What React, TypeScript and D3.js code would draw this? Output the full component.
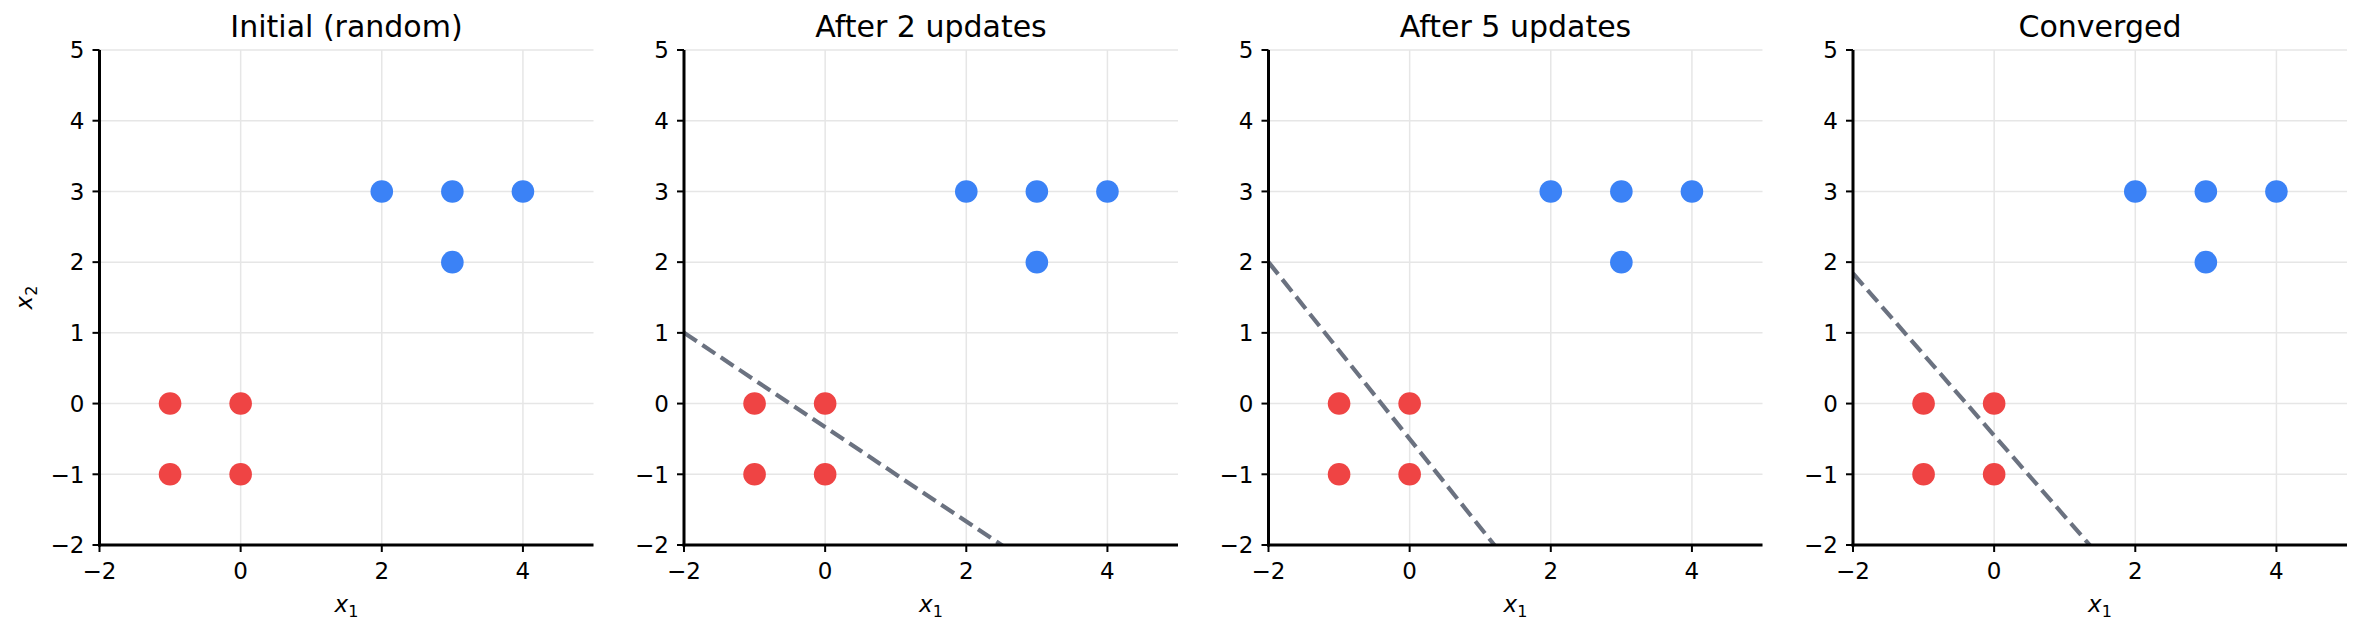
import React from "react";
import * as d3 from "d3";

const titles = ["Initial (random)", "After 2 updates", "After 5 updates", "Converged"];
const negX = [-1, 0, -1, 0];
const negY = [0, 0, -1, -1];
const posX = [2, 3, 4, 3];
const posY = [3, 3, 3, 2];
// decision boundary x2 = slope * x1 + intercept (null = not visible)
const boundarySlope: (number | null)[] = [null, -0.667, -1.25, -1.145];
const boundaryIntercept: (number | null)[] = [null, -0.333, -0.5, -0.45];
const xTicks = [-2, 0, 2, 4];
const yTicks = [-2, -1, 0, 1, 2, 3, 4, 5];

const W = 2364;
const H = 631;
const panelLeft0 = 99.5;
const panelStep = 584.5;
const panelW = 494;
const top = 50;
const bottom = 545;
const FONT = "DejaVu Sans, sans-serif";
const fmt = (v: number) => (v < 0 ? "\u2212" + Math.abs(v) : String(v));

function Panel({ i }: { i: number }) {
  const left = panelLeft0 + i * panelStep;
  const x = d3.scaleLinear().domain([-2, 5]).range([left, left + panelW]);
  const y = d3.scaleLinear().domain([-2, 5]).range([bottom, top]);
  const slope = boundarySlope[i];
  const icpt = boundaryIntercept[i];
  const line = d3.line<[number, number]>().x((d) => x(d[0])).y((d) => y(d[1]));
  const clipId = `clip${i}`;
  return (
    <g>
      <defs>
        <clipPath id={clipId}>
          <rect x={left} y={top} width={panelW} height={bottom - top} />
        </clipPath>
      </defs>
      {xTicks.map((t) => (
        <line key={"gx" + t} x1={x(t)} x2={x(t)} y1={top} y2={bottom} stroke="#e6e6e6" strokeWidth={1.5} />
      ))}
      {yTicks.map((t) => (
        <line key={"gy" + t} x1={left} x2={left + panelW} y1={y(t)} y2={y(t)} stroke="#e6e6e6" strokeWidth={1.5} />
      ))}
      {slope !== null && icpt !== null && (
        <path
          clipPath={`url(#${clipId})`}
          d={line([[-2, slope * -2 + icpt], [5, slope * 5 + icpt]]) || ""}
          stroke="#6b7280"
          strokeWidth={4.2}
          strokeDasharray="15.4,6.7"
          fill="none"
        />
      )}
      {negX.map((v, k) => (
        <circle key={"n" + k} cx={x(v)} cy={y(negY[k])} r={11.3} fill="#ef4444" />
      ))}
      {posX.map((v, k) => (
        <circle key={"p" + k} cx={x(v)} cy={y(posY[k])} r={11.3} fill="#3b82f6" />
      ))}
      <line x1={left} x2={left} y1={top} y2={bottom + 1.5} stroke="black" strokeWidth={3} />
      <line x1={left - 1.5} x2={left + panelW} y1={bottom} y2={bottom} stroke="black" strokeWidth={3} />
      {xTicks.map((t) => (
        <g key={"tx" + t}>
          <line x1={x(t)} x2={x(t)} y1={bottom} y2={bottom + 7} stroke="black" strokeWidth={2} />
          <text x={x(t)} y={bottom + 34} textAnchor="middle" fontSize={23} fontFamily={FONT}>
            {fmt(t)}
          </text>
        </g>
      ))}
      {yTicks.map((t) => (
        <g key={"ty" + t}>
          <line x1={left - 7} x2={left} y1={y(t)} y2={y(t)} stroke="black" strokeWidth={2} />
          <text x={left - 15} y={y(t) + 8.3} textAnchor="end" fontSize={23} fontFamily={FONT}>
            {fmt(t)}
          </text>
        </g>
      ))}
      <text x={left + panelW / 2} y={37} textAnchor="middle" fontSize={30} fontFamily={FONT}>
        {titles[i]}
      </text>
      <text x={left + panelW / 2} y={612} textAnchor="middle" fontSize={23} fontFamily={FONT}>
        <tspan fontStyle="italic">x</tspan>
        <tspan fontSize={16} dy={5}>1</tspan>
      </text>
      {i === 0 && (
        <text
          transform={`translate(${left - 68},${(top + bottom) / 2}) rotate(-90)`}
          textAnchor="middle"
          fontSize={23}
          fontFamily={FONT}
        >
          <tspan fontStyle="italic">x</tspan>
          <tspan fontSize={16} dy={5}>2</tspan>
        </text>
      )}
    </g>
  );
}

export default function App() {
  return (
    <svg width={W} height={H} style={{ position: "absolute", left: 0, top: 0, background: "white" }}>
      <rect x={0} y={0} width={W} height={H} fill="white" />
      {titles.map((_, i) => (
        <Panel key={i} i={i} />
      ))}
    </svg>
  );
}
